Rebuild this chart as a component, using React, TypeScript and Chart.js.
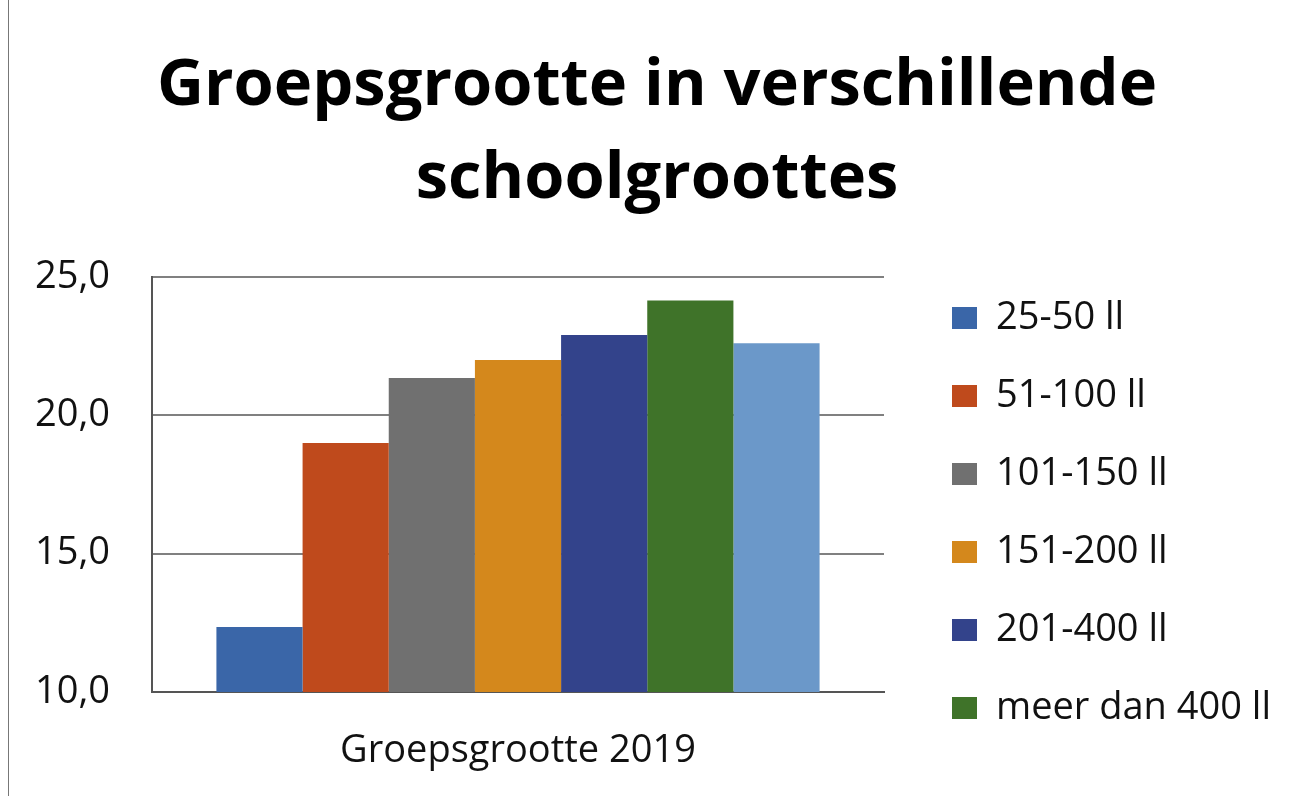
import React, { useEffect, useRef } from "react";
import { Chart, registerables } from "chart.js";

Chart.register(...registerables);

const categories = ["Groepsgrootte 2019"];
const seriesLabels = ["25-50 ll", "51-100 ll", "101-150 ll", "151-200 ll", "201-400 ll", "meer dan 400 ll", "gemiddeld"];
const seriesValues = [12.35, 19.0, 21.35, 22.0, 22.9, 24.15, 22.6];
const seriesColors = ["#3a66a8", "#bf4a1c", "#707070", "#d4881c", "#33438b", "#3f7329", "#6b98c9"];
const yTicks = [10, 15, 20, 25];
const titleLines = ["Groepsgrootte in verschillende", "schoolgroottes"];
const legendCount = 6;

const FONT = "'Open Sans', 'DejaVu Sans', sans-serif";
const FS = 38;
const CW = 1290;
const CH = 796;

export default function App() {
  const ref = useRef<HTMLCanvasElement | null>(null);

  useEffect(() => {
    if (!ref.current) return;
    const mctx = document.createElement("canvas").getContext("2d")!;
    mctx.font = `${FS}px ${FONT}`;
    const maxText = Math.max(...seriesLabels.slice(0, legendCount).map((t) => mctx.measureText(t).width));
    const legPad = 40;
    const boxW = 25;
    const legendWidth = legPad + boxW + FS / 2 + maxText + 10;
    const plotRight = 875;
    const gap = 28;
    const padRight = Math.max(0, CW - plotRight - gap - legendWidth);
    const padLeft = 24;

    const chart = new Chart(ref.current, {
      type: "bar",
      data: {
        labels: categories,
        datasets: seriesLabels.map((label, i) => ({
          label,
          data: [seriesValues[i]],
          backgroundColor: seriesColors[i],
          borderWidth: 0,
          yAxisID: "y",
        })),
      },
      options: {
        animation: false,
        responsive: false,
        maintainAspectRatio: false,
        datasets: { bar: { barPercentage: 1, categoryPercentage: 0.824 } },
        layout: { padding: { left: padLeft, right: padRight, top: 0, bottom: 0 } },
        plugins: {
          tooltip: { enabled: false },
          title: {
            display: true,
            text: titleLines,
            color: "#000",
            font: { family: FONT, size: 65, weight: "bold", lineHeight: 1.43 },
            padding: { top: 40, bottom: 51 },
          },
          legend: {
            position: "right",
            align: "start",
            fullSize: true,
            maxWidth: 600,
            title: {
              display: true,
              text: " ",
              font: { family: FONT, size: 10, lineHeight: 1 },
              padding: { top: 249, bottom: 0 },
            },
            labels: {
              filter: (item) => item.datasetIndex !== undefined && item.datasetIndex < legendCount,
              boxWidth: boxW,
              boxHeight: 22,
              padding: legPad,
              color: "#111",
              font: { family: FONT, size: FS },
            },
          },
        },
        scales: {
          x: {
            grid: { display: false, drawTicks: false },
            border: { display: true, color: "#555", width: 2 },
            ticks: { color: "#111", padding: 36, font: { family: FONT, size: FS } },
            afterFit: (scale) => {
              scale.height = 104;
            },
          },
          y: {
            min: yTicks[0],
            max: yTicks[yTicks.length - 1],
            afterBuildTicks: (scale) => {
              scale.ticks = yTicks.map((v) => ({ value: v }));
            },
            grid: { color: "#808080", lineWidth: 2, drawTicks: false },
            border: { display: true, color: "#555", width: 2 },
            ticks: {
              color: "#111",
              padding: 42,
              font: { family: FONT, size: FS },
              callback: (v) => Number(v).toFixed(1).replace(".", ","),
            },
            afterFit: (scale) => {
              scale.width = 143 - padLeft;
            },
          },
          yR: {
            position: "right",
            display: true,
            grid: { display: false },
            border: { display: false },
            ticks: { display: false },
            afterFit: (scale) => {
              scale.width = gap;
            },
          },
        },
      },
    });
    return () => chart.destroy();
  }, []);

  return (
    <>
      <style>{"body{margin:0;overflow:hidden;background:#fff}"}</style>
      <div
        style={{
          position: "absolute",
          left: 8,
          top: 0,
          width: CW + 1,
          height: CH,
          borderLeft: "1px solid #777",
          background: "#fff",
        }}
      >
        <canvas ref={ref} width={CW} height={CH} style={{ display: "block" }} />
      </div>
    </>
  );
}
